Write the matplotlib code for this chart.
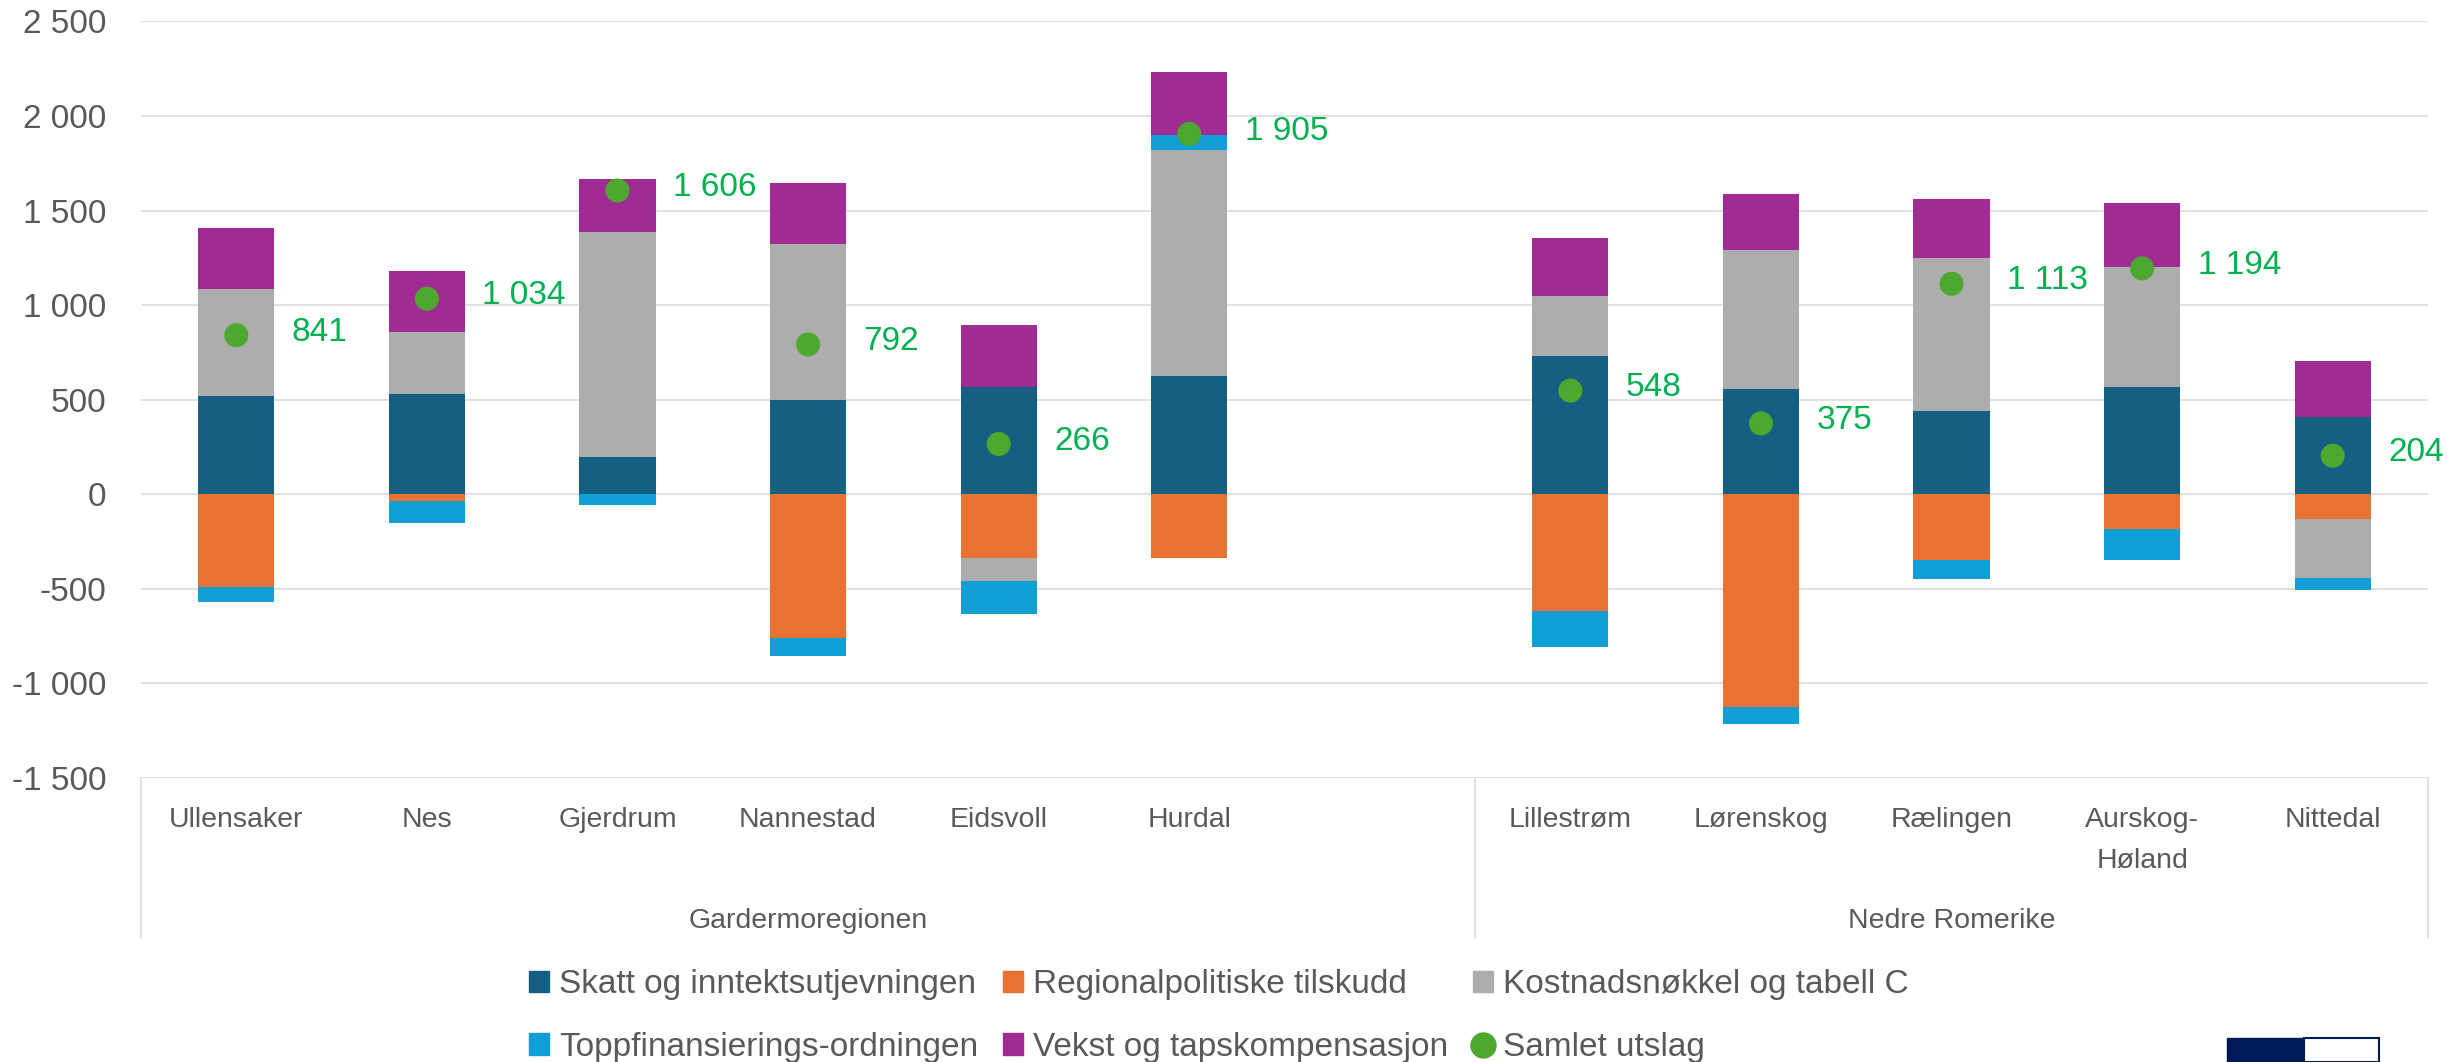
import numpy as np
import matplotlib
matplotlib.use("Agg")
import matplotlib.pyplot as plt
import matplotlib.transforms as mtrans
from matplotlib.patches import Patch, Rectangle
from matplotlib.lines import Line2D

plt.rcParams['font.family'] = ['Liberation Sans', 'DejaVu Sans']

# ---------------- data ----------------
categories = ["Ullensaker", "Nes", "Gjerdrum", "Nannestad", "Eidsvoll", "Hurdal", "",
              "Lillestrøm", "Lørenskog", "Rælingen", "Aurskog-\nHøland", "Nittedal"]
groups = ["Gardermoregionen", "Nedre Romerike"]
group_sizes = [7, 5]

series_names = ["Skatt og inntektsutjevningen", "Regionalpolitiske tilskudd",
                "Kostnadsnøkkel og tabell C", "Toppfinansierings-ordningen",
                "Vekst og tapskompensasjon"]
skatt    = [518, 529, 197, 496, 567, 626, np.nan, 731, 558, 442, 569, 410]
regional = [-491, -38, 0, -761, -335, -335, np.nan, -618, -1122, -345, -181, -132]
kostnad  = [567, 329, 1190, 826, -121, 1192, np.nan, 319, 732, 807, 634, -308]
topp     = [-76, -113, -59, -92, -178, 81, np.nan, -191, -92, -103, -164, -65]
vekst    = [321, 324, 278, 323, 329, 335, np.nan, 304, 299, 310, 335, 294]
samlet   = [841, 1034, 1606, 792, 266, 1905, np.nan, 548, 375, 1113, 1194, 204]
samlet_name = "Samlet utslag"

colors = ["#156082", "#E97132", "#ADADAD", "#0F9ED5", "#A02B93"]
dot_color = "#4EA72E"
label_color = "#00B050"
text_color = "#595959"
grid_color = "#D9D9D9"

# ---------------- figure ----------------
W, H = 2460, 1062
fig = plt.figure(figsize=(W / 100, H / 100), dpi=100)
ax_l, ax_r, ax_t, ax_b = 141, 2428, 21.4, 778
ax = fig.add_axes([ax_l / W, 1 - ax_b / H, (ax_r - ax_l) / W, (ax_b - ax_t) / H])

x = np.arange(len(categories))
pos_bottom = np.zeros(len(x))
neg_bottom = np.zeros(len(x))
for vals, col, name in zip([skatt, regional, kostnad, topp, vekst], colors, series_names):
    v = np.nan_to_num(np.array(vals, dtype=float))
    bottom = np.where(v >= 0, pos_bottom, neg_bottom)
    ax.bar(x, v, width=0.4, bottom=bottom, color=col, edgecolor='none', zorder=2, label=name)
    pos_bottom = pos_bottom + np.where(v > 0, v, 0)
    neg_bottom = neg_bottom + np.where(v < 0, v, 0)

tot = np.array(samlet, dtype=float)
ax.scatter(x, tot, s=300, color=dot_color, zorder=4, edgecolors='none')
for xi, t in zip(x, tot):
    if np.isnan(t):
        continue
    ax.annotate(f"{int(t):,}".replace(",", " "), (xi, t), xytext=(40, 2),
                textcoords='offset points', ha='left', va='center',
                color=label_color, fontsize=24, zorder=5)

ax.set_xlim(-0.5, len(categories) - 0.5)
ax.set_ylim(-1500, 2500)
ax.set_yticks(np.arange(-1500, 2501, 500))
ax.set_yticklabels([f"{v:,}".replace(",", " ") for v in range(-1500, 2501, 500)])
ax.yaxis.grid(True, color=grid_color, linewidth=1.1, zorder=0)
ax.set_axisbelow(True)
ax.tick_params(axis='y', length=0, pad=25, labelsize=24, labelcolor=text_color)
ax.set_xticks([])
for s in ax.spines.values():
    s.set_visible(False)

# category labels
cat_tr = ax.get_xaxis_transform() + mtrans.ScaledTranslation(0, -29 / 100, fig.dpi_scale_trans)
for xi, c in zip(x, categories):
    if c:
        ax.text(xi, 0, c, transform=cat_tr, ha='center', va='top',
                fontsize=20.5, color=text_color, linespacing=1.75)

# group labels and separators
line_top = 1 - ax_b / H
line_bot = 1 - 938 / H
start = 0
slot_w = (ax_r - ax_l) / len(categories)
bounds = [ax_l]
for g, n in zip(groups, group_sizes):
    left = ax_l + start * slot_w
    right = ax_l + (start + n) * slot_w
    fig.text(((left + right) / 2) / W, 1 - 921 / H, g, ha='center', va='center',
             fontsize=20.5, color=text_color)
    bounds.append(right)
    start += n
for b in bounds:
    fig.add_artist(Line2D([b / W, b / W], [line_bot, line_top], color=grid_color, linewidth=1.1))

# legend (row-major order arranged for column-major fill)
handles = [Patch(color=c) for c in colors]
dot_handle = Line2D([], [], marker='o', linestyle='none', color=dot_color, markersize=18)
all_h = handles + [dot_handle]
all_l = series_names + [samlet_name]
order = [0, 3, 1, 4, 2, 5]
leg = fig.legend([all_h[i] for i in order], [all_l[i] for i in order], ncol=3,
                 loc='center', bbox_to_anchor=(1219 / W, 1 - 1016 / H), frameon=False,
                 fontsize=24, handlelength=0.6, handleheight=0.62, handletextpad=0.3,
                 columnspacing=0.75, labelspacing=0.95, borderpad=0)
for t in leg.get_texts():
    t.set_color(text_color)

# logo fragment (bottom right)
navy = "#001A57"
r1 = Rectangle((2227 / W, 0), 77 / W, (1062 - 1038) / H, transform=fig.transFigure,
               facecolor=navy, edgecolor=navy, linewidth=1)
r2 = Rectangle((2304 / W, 0), 75 / W, (1062 - 1038) / H, transform=fig.transFigure,
               facecolor='white', edgecolor=navy, linewidth=1.5)
fig.add_artist(r1)
fig.add_artist(r2)

fig.savefig("out.png", dpi=100, facecolor='white')
